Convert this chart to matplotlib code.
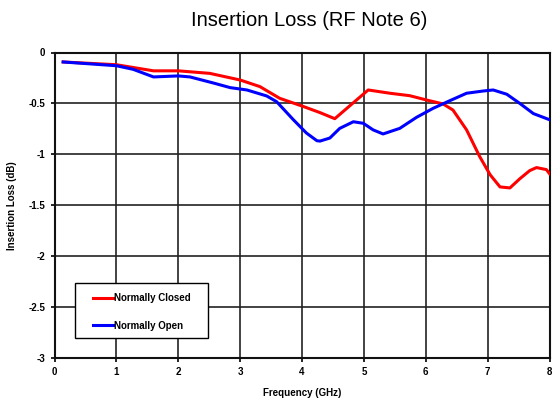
import numpy as np
import matplotlib
matplotlib.use("Agg")
import matplotlib.pyplot as plt
from matplotlib.patches import Rectangle

plt.rcParams['font.family'] = ['Liberation Sans', 'DejaVu Sans']

# Normally Closed (red)
nc_freq = [0.14, 1.0, 1.6, 2.0, 2.51, 3.0, 3.32, 3.64, 4.02, 4.29, 4.53,
           5.07, 5.42, 5.74, 6.01, 6.28, 6.44, 6.66, 6.87, 7.04, 7.2,
           7.36, 7.52, 7.68, 7.79, 7.95, 8.0]
nc_loss = [-0.093, -0.12, -0.18, -0.18, -0.205, -0.27, -0.335, -0.45, -0.53,
           -0.59, -0.65, -0.368, -0.40, -0.424, -0.466, -0.505, -0.565,
           -0.76, -1.02, -1.2, -1.32, -1.33, -1.24, -1.16, -1.13, -1.15, -1.19]

# Normally Open (blue)
no_freq = [0.14, 1.0, 1.27, 1.6, 2.0, 2.19, 2.57, 2.84, 3.11, 3.43, 3.59,
           3.86, 4.07, 4.24, 4.29, 4.45, 4.61, 4.83, 4.99, 5.15, 5.31,
           5.58, 5.85, 6.12, 6.39, 6.66, 6.93, 7.09, 7.31, 7.52, 7.74, 8.0]
no_loss = [-0.093, -0.13, -0.165, -0.24, -0.23, -0.24, -0.30, -0.345, -0.368,
           -0.427, -0.483, -0.66, -0.79, -0.866, -0.87, -0.84, -0.745, -0.68,
           -0.695, -0.76, -0.80, -0.745, -0.637, -0.548, -0.473, -0.40,
           -0.378, -0.368, -0.41, -0.50, -0.60, -0.66]

x_ticks = [0, 1, 2, 3, 4, 5, 6, 7, 8]
y_ticks = [0, -0.5, -1, -1.5, -2, -2.5, -3]
y_labels = ['0', '-0.5', '-1', '-1.5', '-2', '-2.5', '-3']

fig = plt.figure(figsize=(5.52, 4.0), dpi=100)
ax = fig.add_axes([54.5 / 552, 42 / 400, 495 / 552, 305.5 / 400])

ax.plot(nc_freq, nc_loss, color='#ff0000', lw=2.2, label='Normally Closed', zorder=3)
ax.plot(no_freq, no_loss, color='#0000ff', lw=2.2, label='Normally Open', zorder=3)

ax.set_xlim(0, 8)
ax.set_ylim(-3, 0)
ax.set_xticks(x_ticks)
ax.set_yticks(y_ticks)
ax.set_yticklabels(y_labels)
ax.grid(True, color='#222222', lw=1.2)
for s in ax.spines.values():
    s.set_linewidth(1.5)
    s.set_color('#111111')
ax.tick_params(labelsize=7, length=3, width=1.2)
for lab in ax.get_xticklabels() + ax.get_yticklabels():
    lab.set_fontweight('bold')

ax.set_xlabel('Frequency (GHz)', fontsize=7, fontweight='bold', labelpad=8)
ax.set_ylabel('Insertion Loss (dB)', fontsize=7, fontweight='bold', labelpad=8)
fig.text(0.56, 0.948, 'Insertion Loss (RF Note 6)', ha='center', va='center', fontsize=14.5)

# legend box drawn separately so the entries can sit inset like the original
ax.add_patch(Rectangle((0.041, 0.065), 0.27, 0.18, transform=ax.transAxes,
                       facecolor='white', edgecolor='black', lw=1.0, zorder=4))
leg = ax.legend(loc='upper left', bbox_to_anchor=(0.078, 0.212), frameon=False,
                prop={'weight': 'bold', 'size': 7}, handlelength=2.0,
                handletextpad=0.15, labelspacing=1.8, borderpad=0, borderaxespad=0)
leg.set_zorder(5)

fig.savefig('out.png', dpi=100)
